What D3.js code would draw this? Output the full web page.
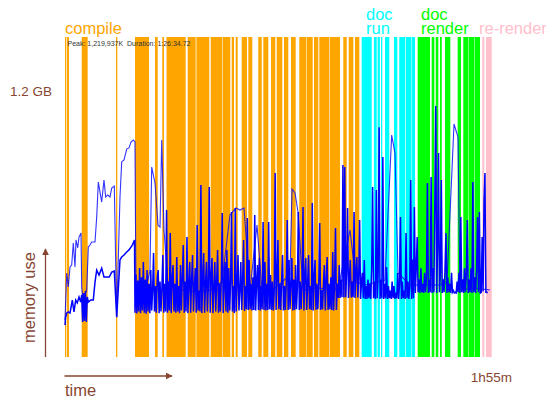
<!DOCTYPE html>
<html>
<head>
<meta charset="utf-8">
<script src="https://cdnjs.cloudflare.com/ajax/libs/d3/7.8.5/d3.min.js"></script>
<style>
  body { margin: 0; background: #fff; }
  svg { display: block; font-family: "Liberation Sans", Arial, sans-serif; }
</style>
</head>
<body>
<svg id="chart" width="546" height="399"></svg>
<script>
// phase activity bands, [start, end] in minutes
const compileBands = [[0,0.35],[0.54,1.08],[4.5,6.11],[13.73,14.09],[18.85,22.62],[24.24,24.97],
  [26.2,26.66],[27.34,32.5],[33.05,35.2],[35.4,38.86],[39.24,42.3],[42.45,44.52],[44.9,45.52],
  [45.97,46.51],[47.59,49.02],[49.37,50.44],[52.06,52.98],[53.41,54.75],[55.48,56.64],[57.02,58.52],
  [58.98,60.14],[60.87,62.13],[63.1,64.9],[65.05,66.71],[67.06,68.22],[68.49,71.2],[71.35,74.06],
  [74.95,75.87],[76.41,77.65],[78.1,79.26]];
const docRunBands = [[79.9,82.6],[83.2,83.95],[84.2,84.8],[85.1,85.45],[86.18,87.34],[88.6,89.5],
  [90.03,91.57],[91.76,93.32],[93.46,94.26]];
const docRenderBands = [[94.99,98.3],[98.76,99.46],[99.84,100.54],[101,101.46],[102.34,103.77],
  [105.76,106.65],[107.27,108.54],[108.67,110.15],[110.29,111.77]];
const reRenderBands = [[112.39,112.93],[113.39,114.92]];

// upper memory line (minutes, MB)
const upperT = [0,0.46,0.89,1.35,1.8,2.24,2.69,2.96,3.42,3.77,4.31,4.5,4.85,5.84,6.28,6.73,7.19,8.08,
  8.54,8.97,9.43,9.88,10.5,10.96,11.5,12.12,12.58,13.28,13.92,14.81,15.27,15.89,16.62,17.24,17.78,
  18.39,18.85,19.12,20.74,22.35,22.89,23.35,24.24,25.05,25.59,26.04,26.66,27.74,30.97,35.01,39.05,
  42.28,44.43,46.05,47.13,48.21,49.83,51.71,53.06,56.56,60.6,61.14,61.95,62.75,64.1,68.14,72.72,
  74.06,76.76,78.37,80.8,86.18,87.98,88.87,89.69,92.92,96.96,101,102.88,104.77,105.84,106.38,
  110.42,114.46];
const upperMB = [167,379,316,406,415,514,406,528,492,541,559,316,257,302,496,505,519,519,
  632,789,744,699,798,722,731,722,762,771,180,722,880,889,938,943,970,
  979,970,257,325,347,392,857,785,595,586,979,573,325,302,293,302,
  338,641,672,663,672,302,595,302,311,370,758,740,654,302,311,302,
  347,573,338,325,347,1001,920,379,325,325,325,338,1051,992,302,
  311,302];

// lower memory line before the busy compile part (minutes, MB)
const lowerT = [0,0.13,0.46,0.89,1.35,1.97,2.42,2.88,3.31,3.77,4.23,4.5,4.75,5,5.25,5.5,5.75,6,
  6.28,6.92,7.62,8.08,8.54,9.16,9.88,10.5,11.23,11.93,12.58,13.28,13.92,14.81,15.27,15.89,16.62,
  17.24,18.13,18.72];
const lowerMB = [144,176,198,203,198,257,203,257,244,271,248,280,158,289,162,298,158,271,
  248,257,257,338,392,370,401,361,361,361,383,388,180,438,451,460,474,
  483,505,528];

// sampled every quarter minute from 18.85 min on
const denseStart = 18.85, denseStep = 0.25;
const compileMB = [
  200,372,196,345,205,401,198,360,210,429,200,
  350,195,392,205,330,198,392,210,300,469,205,
  320,200,360,392,198,340,205,310,460,200,330,
  205,663,200,340,210,559,198,350,415,205,330,
  200,451,205,320,198,415,210,360,505,200,340,
  205,541,198,330,429,200,350,460,205,320,401,
  200,595,210,300,205,776,198,340,469,200,330,
  429,205,320,767,200,350,447,198,310,429,205,
  340,483,200,330,205,360,650,198,320,429,205,
  483,200,401,210,340,654,205,320,198,672,205,
  330,460,210,300,429,212,350,528,208,320,215,
  627,212,438,215,330,210,360,212,641,210,340,
  415,212,447,210,320,215,609,212,429,210,330,
  212,609,215,370,212,340,210,300,830,212,360,
  528,215,330,212,350,460,210,320,212,340,618,
  212,438,215,330,447,210,350,212,415,215,320,
  654,212,340,215,330,677,210,360,447,212,330,
  460,215,320,212,695,210,350,438,212,330,215,
  340,604,212,302,215,330,415,210,350,451,212,
  330,215,360,212,474,210,340,582,212,330,266,
  415,266,350,270,866,268,857,270,380,672,266,
  360,438,268,340,270,654,266,380,451,268,360];
const docRunMB = [
  618,262,340,380,265,438,262,320,262,350,265,
  330,262,400,767,265,340,262,753,265,380,1037,
  262,350,265,902,262,330,265,406,262,320,265,
  300,262,340,265,320,262,290,265,379,262,330,
  632,262,340,265,300,262,559,265,340,262,320,
  798,262,440,265,677];
const docRenderMB = [
  289,400,541,292,350,289,400,292,330,289,380,
  292,360,785,289,350,292,812,289,400,292,700,
  1132,289,500,920,292,380,798,289,350,292,400,
  559,289,360,292,330,289,380,292,300,289,292,
  289,340,292,380,289,632,292,350,289,400,292,
  380,618,289,350,292,400,289,789,292,360,289];
const reRenderMB = [400,632,292,654,289,292,541,295,700,830,292,292,290];

const phases = [
  {name: ['compile'], color: '#ffa500', bands: compileBands, labelX: 65},
  {name: ['doc', 'run'], color: '#00ffff', bands: docRunBands, labelX: 366},
  {name: ['doc', 'render'], color: '#00ff00', bands: docRenderBands, labelX: 421},
  {name: ['re-render'], color: '#ffc0cb', bands: reRenderBands, labelX: 479}
];

const brown = '#874532';
const svg = d3.select('#chart');

const x = d3.scaleLinear().domain([0, 115]).range([65, 492]);
const y = d3.scaleLinear().domain([0, 1200]).range([357, 91]);
const bandTop = 37;

phases.forEach(p => {
  svg.append('g')
    .selectAll('rect')
    .data(p.bands)
    .enter()
    .append('rect')
    .attr('x', d => x(d[0]))
    .attr('width', d => x(d[1]) - x(d[0]))
    .attr('y', bandTop)
    .attr('height', y(0) - bandTop)
    .attr('fill', p.color);

  const label = svg.append('text')
    .attr('x', p.labelX)
    .attr('y', p.name.length > 1 ? 19.5 : 33.5)
    .attr('fill', p.color)
    .style('font-size', '16.5px');
  p.name.forEach((w, i) => {
    label.append('tspan')
      .attr('x', p.labelX)
      .attr('dy', i === 0 ? 0 : 14)
      .text(w);
  });
});

svg.append('text')
  .attr('x', 67.5)
  .attr('y', 45.5)
  .attr('fill', '#333')
  .style('font-size', '7px')
  .text('Peak: 1,219,937K\u00a0\u00a0Duration: 1:26:34.72');

const denseMB = compileMB.concat(docRunMB, docRenderMB, reRenderMB);
const lower = lowerT.map((t, i) => [t, lowerMB[i]])
  .concat(denseMB.map((v, i) => [denseStart + i * denseStep, v]));
const upper = upperT.map((t, i) => [t, upperMB[i]]);

const line = d3.line()
  .x(d => x(d[0]))
  .y(d => y(d[1]));

svg.append('path')
  .datum(upper)
  .attr('d', line)
  .attr('fill', 'none')
  .attr('stroke', '#0000ff')
  .attr('stroke-opacity', 0.8)
  .attr('stroke-width', 1.1);

svg.append('path')
  .datum(lower)
  .attr('d', line)
  .attr('fill', 'none')
  .attr('stroke', '#0000ff')
  .attr('stroke-width', 1.5);

// axis hints
svg.append('text')
  .attr('x', 10)
  .attr('y', y(1200))
  .attr('dy', '0.36em')
  .attr('fill', brown)
  .style('font-size', '13.5px')
  .text('1.2 GB');

svg.append('text')
  .attr('x', 512)
  .attr('y', 381.5)
  .attr('text-anchor', 'end')
  .attr('fill', brown)
  .style('font-size', '13.5px')
  .text('1h55m');

svg.append('text')
  .attr('transform', 'translate(34.5,297.5) rotate(-90)')
  .attr('text-anchor', 'middle')
  .attr('fill', brown)
  .style('font-size', '16.5px')
  .text('memory use');

svg.append('text')
  .attr('x', 65)
  .attr('y', 395.5)
  .attr('fill', brown)
  .style('font-size', '16.5px')
  .text('time');

svg.append('defs').append('marker')
  .attr('id', 'head')
  .attr('viewBox', '0 0 10 10')
  .attr('refX', 9)
  .attr('refY', 5)
  .attr('markerWidth', 7)
  .attr('markerHeight', 7)
  .attr('markerUnits', 'userSpaceOnUse')
  .attr('orient', 'auto')
  .append('path')
  .attr('d', 'M0,0L10,5L0,10z')
  .attr('fill', brown);

svg.append('line')
  .attr('x1', 45.5).attr('y1', 357)
  .attr('x2', 45.5).attr('y2', 249)
  .attr('stroke', brown)
  .attr('stroke-width', 1.3)
  .attr('marker-end', 'url(#head)');

svg.append('line')
  .attr('x1', 64.5).attr('y1', 376)
  .attr('x2', 172).attr('y2', 376)
  .attr('stroke', brown)
  .attr('stroke-width', 1.3)
  .attr('marker-end', 'url(#head)');
</script>
</body>
</html>
